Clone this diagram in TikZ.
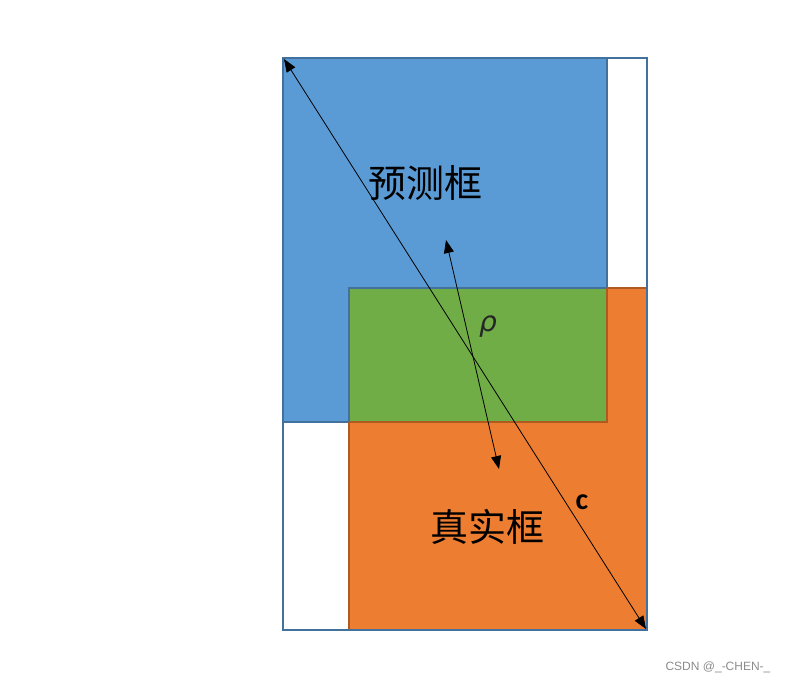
\documentclass[tikz,border=0pt]{standalone}
\usepackage{fontspec}
\setmainfont{Carlito}
\newfontfamily\cjk{Noto Sans CJK SC}
\newfontfamily\wm{Liberation Sans}
\newfontfamily\grk{DejaVu Sans}
\usetikzlibrary{arrows.meta}
\definecolor{bluefill}{HTML}{5B9BD5}
\definecolor{orangefill}{HTML}{ED7D31}
\definecolor{greenfill}{HTML}{70AD47}
\definecolor{blueline}{HTML}{41719C}
\definecolor{orangeline}{HTML}{AE5A21}
\begin{document}
\begin{tikzpicture}[x=1pt,y=-1pt,
  box/.style={line width=1.2pt},
  conn/.style={line width=0.8pt,{Triangle[length=13pt,width=10pt]}-{Triangle[length=13pt,width=10pt]}},
  cjklabel/.style={font=\cjk\fontsize{38}{42}\selectfont,inner sep=0pt}]
\useasboundingbox (0,0) rectangle (787,683);
\fill[white] (0,0) rectangle (787,683);
% predicted box
\filldraw[box,fill=bluefill,draw=blueline] (283,58) rectangle (607,422);
% ground-truth box
\filldraw[box,fill=orangefill,draw=orangeline] (349,288) rectangle (647,630);
% overlap
\fill[greenfill] (349,288) rectangle (607,422);
\draw[box,draw=blueline] (349,422) -- (349,288) -- (607,288);
\draw[box,draw=orangeline] (607,288) -- (607,422) -- (349,422);
% outer box
\draw[line width=1.2pt,draw=blueline] (283,58) rectangle (647,630);
% labels
\node[cjklabel] (pred) at (425,183) {预测框};
\node[cjklabel] (gt) at (487,527) {真实框};
\coordinate (tl) at (284,59);
\coordinate (br) at (646,629);
\coordinate (cp) at (446,240);
\coordinate (cg) at (499,469);
\draw[conn] (tl) -- (br);
\draw[conn] (cp) -- (cg);
\node[font=\grk\itshape\fontsize{28}{30}\selectfont,text=black!85] (rho) at (488,327) {ρ};
\node[font=\bfseries\fontsize{30}{34}\selectfont] (c) at (582,502) {c};
\node[font=\wm\fontsize{12}{14}\selectfont,text=black!45] (mark) at (718,667) {CSDN @\_-CHEN-\_};
\end{tikzpicture}
\end{document}
